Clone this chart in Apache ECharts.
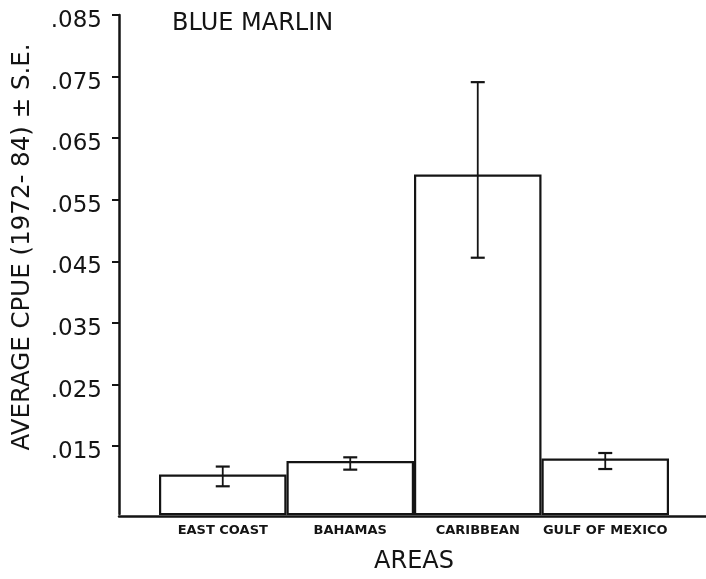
<!DOCTYPE html>
<html>
<head>
<meta charset="utf-8">
<script src="https://cdn.jsdelivr.net/npm/echarts@6/dist/echarts.min.js"></script>
<style>html,body{margin:0;padding:0;background:#fff;}#c{width:706px;height:579px;}</style>
</head>
<body>
<div id="c"></div>
<script>
const categories = ['EAST COAST', 'BAHAMAS', 'CARIBBEAN', 'GULF OF MEXICO'];
const meanCPUE = [0.0104, 0.0126, 0.0591, 0.0130];
const seLow = [0.0085, 0.0112, 0.0456, 0.0113];
const seHigh = [0.0117, 0.0132, 0.0741, 0.0139];
const yTicks = [0.015, 0.025, 0.035, 0.045, 0.055, 0.065, 0.075, 0.085];

const ink = '#141414';
const chart = echarts.init(document.getElementById('c'), null, {renderer: 'canvas'});
const errData = categories.map((c, i) => [i, seLow[i], seHigh[i]]);

chart.setOption({
  animation: false,
  backgroundColor: '#fff',
  title: {
    text: 'BLUE MARLIN', left: 172, top: 12, padding: 0,
    textStyle: {fontFamily: 'DejaVu Sans', fontSize: 24, fontWeight: 'normal', color: ink}
  },
  graphic: [{
    type: 'text', x: 23, y: 247, rotation: Math.PI / 2,
    style: {text: 'AVERAGE CPUE (1972- 84) \u00b1 S.E.', fontFamily: 'DejaVu Sans', fontSize: 24.5,
      fill: ink, align: 'center', verticalAlign: 'middle'}
  }],
  grid: [
    {left: 159, right: 37, top: 15, bottom: 63},
    {left: 119, right: 0, top: 15, bottom: 63}
  ],
  xAxis: [{
    type: 'category', gridIndex: 0, data: categories,
    axisLine: {show: false}, axisTick: {show: false},
    axisLabel: {fontFamily: 'DejaVu Sans', fontWeight: 'bold', fontSize: 13, color: ink, margin: 10, interval: 0},
    name: 'AREAS', nameLocation: 'middle', nameGap: 36,
    nameTextStyle: {fontFamily: 'DejaVu Sans', fontSize: 24, color: ink}
  }, {
    type: 'value', gridIndex: 1, min: 0, max: 1,
    axisLine: {show: true, onZero: false, lineStyle: {color: ink, width: 2.5}},
    axisTick: {show: false}, axisLabel: {show: false}, splitLine: {show: false}
  }],
  yAxis: [{
    type: 'value', gridIndex: 0, min: 0.004, max: 0.085, offset: 40,
    axisLine: {show: true, lineStyle: {color: ink, width: 2.5}},
    axisTick: {show: true, length: 7, customValues: yTicks, lineStyle: {color: ink, width: 2}},
    axisLabel: {customValues: yTicks, fontFamily: 'DejaVu Sans', fontSize: 23, color: ink, margin: 17,
      verticalAlign: 'top', lineHeight: 12,
      formatter: v => '.' + String(Math.round(v * 1000)).padStart(3, '0')},
    splitLine: {show: false}
  }, {
    type: 'value', gridIndex: 1, min: 0, max: 1, show: false
  }],
  series: [{
    type: 'bar', xAxisIndex: 0, yAxisIndex: 0, data: meanCPUE,
    barCategoryGap: '0%',
    itemStyle: {color: '#fff', borderColor: ink, borderWidth: 2.2}
  }, {
    type: 'custom', xAxisIndex: 0, yAxisIndex: 0, data: errData, z: 5,
    renderItem: function (params, api) {
      const x = api.coord([api.value(0), api.value(1)])[0];
      const yl = api.coord([api.value(0), api.value(1)])[1];
      const yh = api.coord([api.value(0), api.value(2)])[1];
      const w = 7;
      const st = {stroke: ink, lineWidth: 1.8};
      return {type: 'group', children: [
        {type: 'line', shape: {x1: x, y1: yl, x2: x, y2: yh}, style: st},
        {type: 'line', shape: {x1: x - w, y1: yl, x2: x + w, y2: yl}, style: {stroke: ink, lineWidth: 2.2}},
        {type: 'line', shape: {x1: x - w, y1: yh, x2: x + w, y2: yh}, style: {stroke: ink, lineWidth: 2.2}}
      ]};
    }
  }]
});
</script>
</body>
</html>
